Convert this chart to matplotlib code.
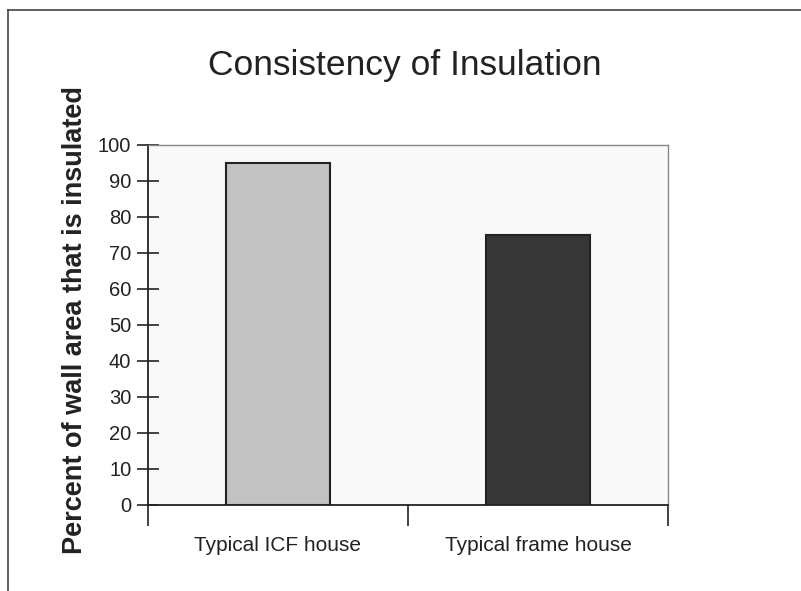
import matplotlib
matplotlib.use("Agg")
import matplotlib.pyplot as plt
from matplotlib.lines import Line2D

categories = ["Typical ICF house", "Typical frame house"]
values = [95, 75]
bar_colors = ["#c2c2c2", "#363636"]
yticks = [0, 10, 20, 30, 40, 50, 60, 70, 80, 90, 100]

plt.rcParams['font.family'] = ['Liberation Sans', 'DejaVu Sans']

fig = plt.figure(figsize=(8.01, 5.91), dpi=100)
fig.patch.set_facecolor("white")
W, H = 801, 591
ax = fig.add_axes([148 / W, 1 - 505 / H, (668 - 148) / W, (505 - 145) / H])
ax.set_facecolor("#f9f9f9")

x = list(range(len(categories)))
ax.bar(x, values, width=0.4, color=bar_colors, edgecolor="#222222", linewidth=1.5, zorder=3)

ax.set_xlim(-0.5, len(categories) - 0.5)
ax.set_ylim(0, 100)
ax.set_yticks(yticks)
ax.set_yticklabels([str(v) for v in yticks], fontsize=14.5, color="#222222")
ax.tick_params(axis='y', direction='inout', length=16, width=1.2, pad=4, colors="#222222")

ax.set_xticks([-0.5, 0.5, 1.5])
ax.set_xticklabels([])
ax.tick_params(axis='x', direction='out', length=15, width=1.2, colors="#222222")
ax.set_xticks(x, minor=True)
ax.set_xticklabels(categories, minor=True, fontsize=15, color="#222222")
ax.tick_params(axis='x', which='minor', length=0, pad=22)

for side in ["left", "bottom"]:
    ax.spines[side].set_color("#222222")
    ax.spines[side].set_linewidth(1.3)
for side in ["top", "right"]:
    ax.spines[side].set_color("#888888")
    ax.spines[side].set_linewidth(1.0)

fig.text(75 / W, 1 - 320 / H, "Percent of wall area that is insulated", fontsize=19.5,
         fontweight="bold", rotation=90, ha="center", va="center", color="#222222")

fig.text(405 / W, 1 - 65 / H, "Consistency of Insulation", fontsize=25.5, ha="center",
         va="center", color="#222222")

# outer frame
fig.add_artist(Line2D([8 / W, 1], [1 - 10 / H, 1 - 10 / H], color="#444444", linewidth=1.2))
fig.add_artist(Line2D([8 / W, 8 / W], [0, 1 - 10 / H], color="#444444", linewidth=1.2))

fig.savefig("out.png", dpi=100)
